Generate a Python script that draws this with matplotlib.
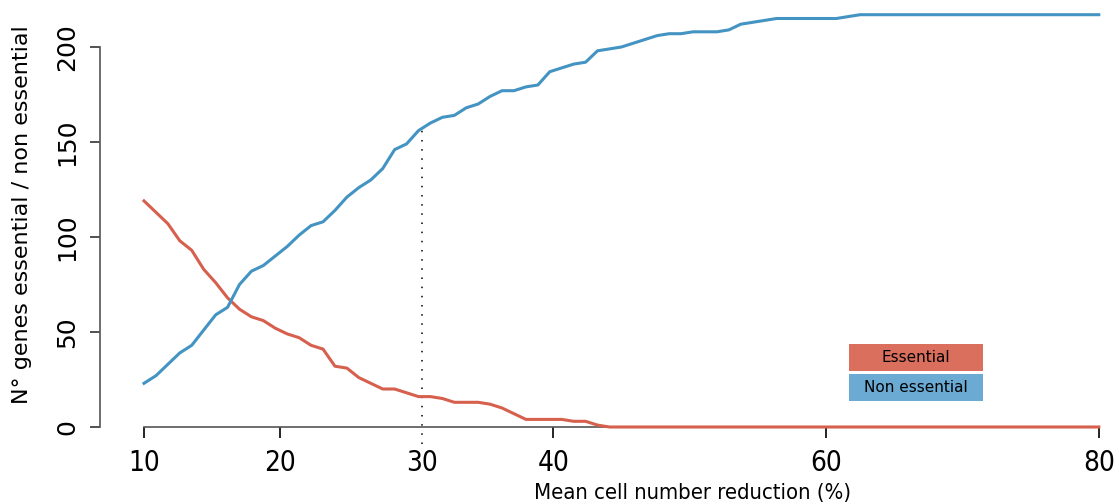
import matplotlib
matplotlib.use("Agg")
import matplotlib.pyplot as plt
import numpy as np
from matplotlib.patches import Rectangle

# reduction thresholds (%), 81 steps from 10 to 80
reduction = np.linspace(10, 80, 81)

essential = [119, 113, 107, 98, 93, 83, 76, 68, 62, 58, 56, 52, 49, 47, 43, 41,
             32, 31, 26, 23, 20, 20, 18, 16, 16, 15, 13, 13, 13, 12, 10, 7,
             4, 4, 4, 4, 3, 3, 1] + [0] * 42

non_essential = [23, 27, 33, 39, 43, 51, 59, 63, 75, 82, 85, 90, 95, 101, 106, 108,
                 114, 121, 126, 130, 136, 146, 149, 156, 160, 163, 164, 168, 170, 174, 177, 177,
                 179, 180, 187, 189, 191, 192, 198, 199, 200, 202, 204, 206, 207, 207, 208, 208,
                 208, 209, 212, 213, 214, 215, 215, 215, 215, 215, 215, 216] + [217] * 21

cutoff = 30.4
cutoff_count = 157.6

xticks = [10, 20, cutoff, 40, 60, 80]
xtick_labels = ["10", "20", "30", "40", "60", "80"]
yticks = [0, 50, 100, 150, 200]

red = "#d6604d"
blue = "#4393c3"

W, H = 1119, 504
fig = plt.figure(figsize=(W / 100, H / 100), dpi=100)

# plot region in pixels
left, right, top, bottom = 100, 1119, 0, 443.5
ax = fig.add_axes([left / W, (H - bottom) / H, (right - left) / W, (bottom - top) / H])

px_per_x = 136.4 / 10
px_per_y = 95 / 50
ax.set_xlim(10 - (144 - left) / px_per_x, 10 + (right - 144) / px_per_x)
ax.set_ylim(-(bottom - 427) / px_per_y, (427 - top) / px_per_y)

ax.plot(reduction, essential, color=red, lw=2.2, solid_joinstyle="round", zorder=3)
ax.plot(reduction, non_essential, color=blue, lw=2.2, solid_joinstyle="round", zorder=3)
ax.plot([cutoff, cutoff], [ax.get_ylim()[0], cutoff_count], color="black",
        lw=1.1, ls=(0, (1, 5)), zorder=2)

for s in ["top", "right"]:
    ax.spines[s].set_visible(False)
ax.spines["left"].set_bounds(0, 200)
ax.spines["bottom"].set_position(("data", 0))
ax.spines["bottom"].set_bounds(10, 80)
for s in ["left", "bottom"]:
    ax.spines[s].set_color("#555555")
    ax.spines[s].set_linewidth(1.2)

ax.set_xticks(xticks)
ax.set_xticklabels(xtick_labels, fontsize=20, fontstretch="condensed")
ax.set_yticks(yticks)
ax.set_yticklabels([str(v) for v in yticks], fontsize=18, rotation=90, va="center")
ax.tick_params(axis="x", length=8, width=1.2, pad=8, color="black")
ax.tick_params(axis="y", length=7, width=1.2, pad=8, color="#333333")
ax.get_xticklines()[4].set_visible(False)  # cutoff tick hidden under the dotted line

fig.text(693 / W, 1 - 493 / H, "Mean cell number reduction (%)", fontsize=15.8,
         fontstretch="condensed", ha="center", va="center")
fig.text(22 / W, 1 - 215 / H, "N° genes essential / non essential", fontsize=16,
         rotation=90, ha="center", va="center")

# legend boxes
for (y0, y1), label, col in [((344, 371), "Essential", "#da6f5e"),
                             ((374, 401), "Non essential", "#6aaad3")]:
    fig.patches.append(Rectangle((849 / W, 1 - y1 / H), 134 / W, (y1 - y0) / H,
                                 transform=fig.transFigure, color=col, lw=0))
    fig.text(916 / W, 1 - (y0 + y1) / 2 / H, label, fontsize=11,
             ha="center", va="center")

fig.savefig("out.png", dpi=100)
